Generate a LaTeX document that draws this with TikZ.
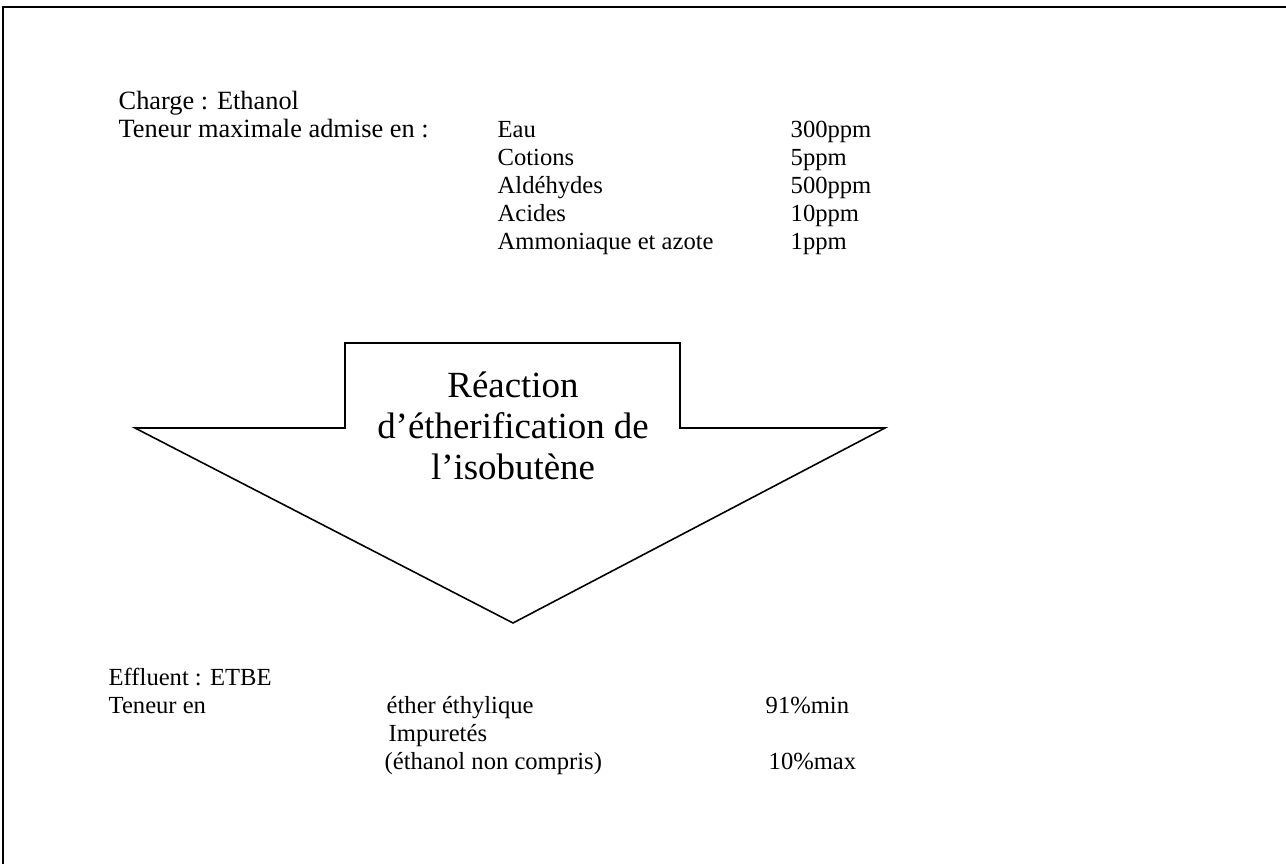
\documentclass[tikz,border=0pt]{standalone}
\usepackage{fontspec}
\setmainfont{Liberation Serif}
\usetikzlibrary{positioning}

\begin{document}
\begin{tikzpicture}[x=0.02cm, y=-0.02cm, thick,
  txt/.style={anchor=base west, inner sep=0pt, font=\fontsize{14}{16}\selectfont},
  head/.style={txt, font=\fontsize{15}{17}\selectfont},
  reac/.style={align=center, inner sep=0pt, font=\fontsize{21}{23.5}\selectfont},
  shape line/.style={line width=0.9pt, line join=miter}]

  \useasboundingbox (0,0) rectangle (1286,864);

  % frame
  \coordinate (ftl) at (3,7);
  \coordinate (ftr) at (1286,7);
  \coordinate (fbl) at (3,864);
  \draw[line width=1.1pt] (fbl) -- (ftl) -- (ftr);

  % charge
  \node[head] at (118,110) (charge) {Charge : Ethanol};
  \node[head] at (118,138) (teneur) {Teneur maximale admise en :};

  \node[txt] at (497,138) (eau) {Eau};
  \node[txt] at (497,166) (cotions) {Cotions};
  \node[txt] at (497,194) (aldehydes) {Aldéhydes};
  \node[txt] at (497,222) (acides) {Acides};
  \node[txt] at (497,250) (ammoniaque) {Ammoniaque et azote};

  \node[txt] at (790,138) (veau) {300ppm};
  \node[txt] at (790,166) (vcotions) {5ppm};
  \node[txt] at (790,194) (valdehydes) {500ppm};
  \node[txt] at (790,222) (vacides) {10ppm};
  \node[txt] at (790,250) (vammoniaque) {1ppm};

  % arrow
  \draw[shape line] (345,343) -- (680,343) -- (680,428) -- (885,428)
    -- (513,623) -- (135,428) -- (345,428) -- cycle;
  \node[reac] at (513,426) (reaction) {Réaction\\d’étherification de\\l’isobutène};

  % effluent
  \node[txt] at (108,686) (effluent) {Effluent : ETBE};
  \node[txt] at (108,714) (teneuren) {Teneur en};

  \node[txt] at (386,714) (ether) {éther éthylique};
  \node[txt] at (388,742) (impuretes) {Impuretés};
  \node[txt] at (384,770) (ethanol) {(éthanol non compris)};

  \node[txt] at (765,714) (vether) {91\%min};
  \node[txt] at (768,770) (vethanol) {10\%max};
\end{tikzpicture}
\end{document}
